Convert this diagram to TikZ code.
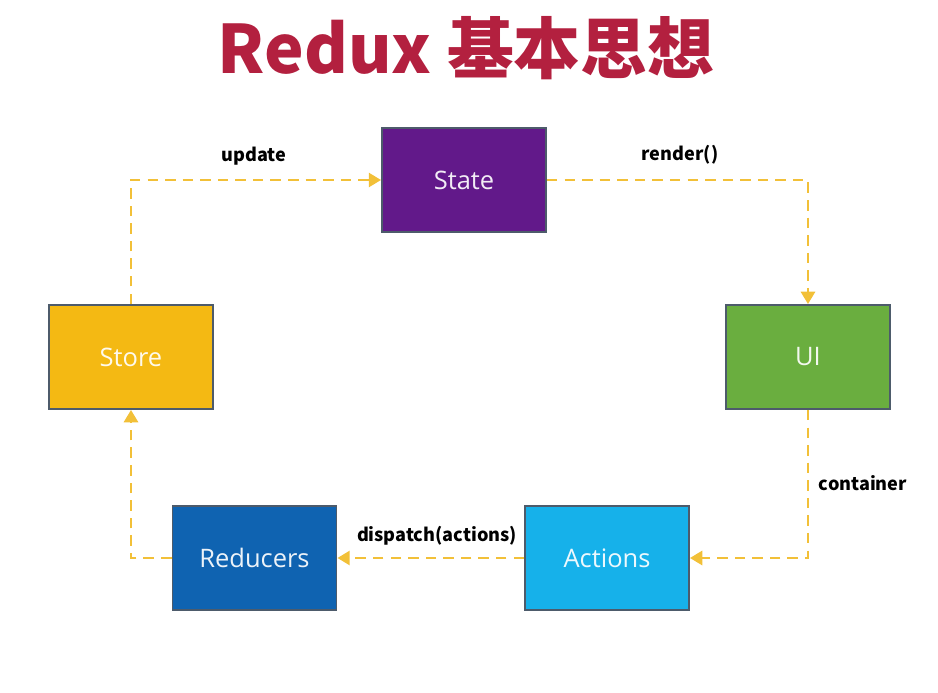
\documentclass[tikz,border=0pt]{standalone}
\usepackage{fontspec}
\setsansfont{Open Sans}
\newfontfamily\cjk{Noto Sans CJK SC}
\usetikzlibrary{arrows.meta}
\definecolor{titlered}{HTML}{B3203F}
\definecolor{boxedge}{HTML}{4D5B6B}
\definecolor{flowline}{HTML}{F2C038}
\definecolor{statefill}{HTML}{62198A}
\definecolor{uifill}{HTML}{6AAE3F}
\definecolor{storefill}{HTML}{F4B913}
\definecolor{reducerfill}{HTML}{0F63B1}
\definecolor{actionfill}{HTML}{16B1EA}

\begin{document}
\begin{tikzpicture}[x=0.02cm,y=-0.02cm,
  block/.style={draw=boxedge, line width=1.1pt, minimum width=3.28cm, minimum height=2.08cm, inner sep=0pt,
    font=\sffamily\fontsize{14.5}{17}\selectfont, text=white, text opacity=0.92},
  flow/.style={draw=flowline, line width=1.5pt, dash pattern=on 6pt off 4pt,
    -{Triangle[width=8pt,length=7pt]}},
  lbl/.style={font=\cjk\bfseries\fontsize{10.3}{12}\selectfont, inner sep=0pt}]
\useasboundingbox (0,0) rectangle (938,693);
\node[font=\cjk\bfseries\fontsize{38}{44}\selectfont, text=titlered] (title) at (466,48) {Redux 基本思想};
% the five boxes
\node[block, fill=statefill] (state) at (464,180) {State};
\node[block, fill=uifill] (ui) at (808,357) {UI};
\node[block, fill=storefill] (store) at (131,357) {Store};
\node[block, fill=reducerfill] (reducers) at (254.5,558) {Reducers};
\node[block, fill=actionfill] (actions) at (607,558) {Actions};
% the cycle
\draw[flow] (store.north) |- (state.west);
\draw[flow] (state.east) -| (ui.north);
\draw[flow] (ui.south) |- (actions.east);
\draw[flow] (actions.west) -- (reducers.east);
\draw[flow] (reducers.west) -| (store.south);
\node[lbl] (update) at (254,156) {update};
\node[lbl] (render) at (680,155) {render()};
\node[lbl] (container) at (863,483) {container};
\node[lbl] (dispatch) at (437,536) {dispatch(actions)};
\end{tikzpicture}
\end{document}
